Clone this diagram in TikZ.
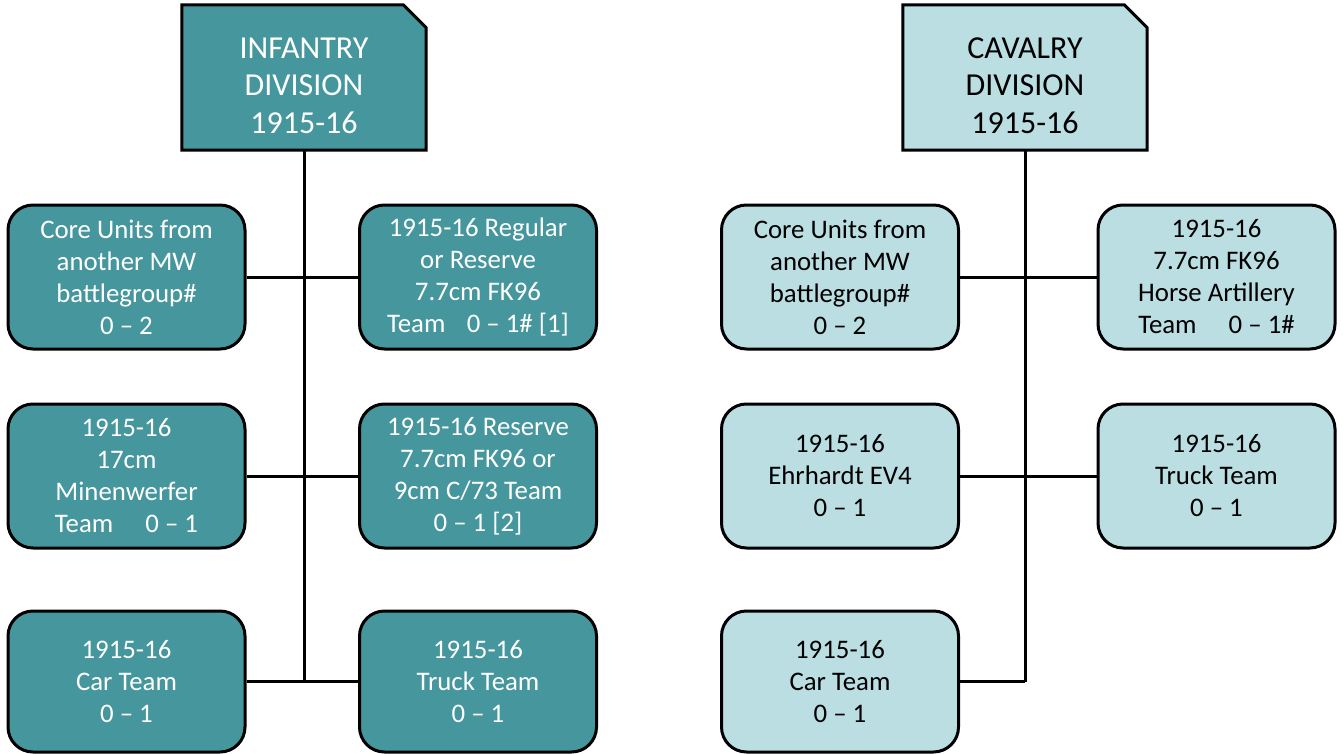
\documentclass[tikz,border=0pt]{standalone}
\usepackage{fontspec}
\setmainfont{Carlito}
\usetikzlibrary{calc}
\definecolor{infteal}{RGB}{70,150,158}
\definecolor{cavlight}{RGB}{186,222,226}
\newcommand{\titlestrut}{\rule{0pt}{37pt}}
\pgfdeclarelayer{bg}
\pgfsetlayers{bg,main}

\begin{document}
\begin{tikzpicture}[x=1pt, y=-1pt,
    divbox/.style={minimum width=244pt, minimum height=145pt,
        inner sep=0pt, align=center, font=\fontsize{32}{37.5}\selectfont},
    divedge/.style={draw, line width=3pt, line join=miter},
    unitbox/.style={draw, line width=3pt, rounded corners=25pt,
        minimum width=237pt, minimum height=144pt, inner sep=0pt,
        align=center, font=\fontsize{26.8}{32}\selectfont},
    link/.style={line width=3pt},
    inf/.style={fill=infteal, text=white},
    cav/.style={fill=cavlight, text=black}]
        \useasboundingbox (0,0) rectangle (1343,754);

        % Infantry division
        \node[divbox, text=white] (inftop) at (304,77.5) {\titlestrut INFANTRY\\DIVISION\\1915-16};
        \node[unitbox, inf] (infa) at (126.5,277) {Core Units from\\another MW\\battlegroup\#\\0 – 2};
        \node[unitbox, inf] (infb) at (478,277) {1915-16 Regular\\or Reserve\\7.7cm FK96\\Team\hspace{0.8em}0 – 1\# [1]};
        \node[unitbox, inf] (infc) at (126.5,476) {1915-16\\17cm\\Minenwerfer\\Team\hspace{1.2em}0 – 1};
        \node[unitbox, inf] (infd) at (478,476) {1915-16 Reserve\\7.7cm FK96 or\\9cm C/73 Team\\0 – 1 [2]};
        \node[unitbox, inf, minimum height=141pt] (infe) at (126.5,681.5) {1915-16\\Car Team\\0 – 1};
        \node[unitbox, inf, minimum height=141pt] (inff) at (478,681.5) {1915-16\\Truck Team\\0 – 1};

        % Cavalry division
        \node[divbox, text=black] (cavtop) at (1025,77.5) {\titlestrut CAVALRY\\DIVISION\\1915-16};
        \node[unitbox, cav] (cava) at (840,277) {Core Units from\\another MW\\battlegroup\#\\0 – 2};
        \node[unitbox, cav] (cavb) at (1216.5,277) {1915-16\\7.7cm FK96\\Horse Artillery\\Team\hspace{1.2em}0 – 1\#};
        \node[unitbox, cav] (cavc) at (840,476) {1915-16\\Ehrhardt EV4\\0 – 1};
        \node[unitbox, cav] (cavd) at (1216.5,476) {1915-16\\Truck Team\\0 – 1};
        \node[unitbox, cav, minimum height=141pt] (cave) at (840,681.5) {1915-16\\Car Team\\0 – 1};

        % Cut-corner boxes behind the titles
        \begin{pgfonlayer}{bg}
        \foreach \d/\c in {inftop/infteal, cavtop/cavlight}
            \path[divedge, fill=\c] (\d.south west) -- (\d.north west) -- ([xshift=-23pt]\d.north east)
                -- ([yshift=-23pt]\d.north east) -- (\d.south east) -- cycle;
        \end{pgfonlayer}

        % Infantry links
        \coordinate (infend) at (inftop.south |- infe.east);
        \draw[link] (inftop.south) -- (infend);
        \draw[link] (infa.east) -- (infb.west);
        \draw[link] (infc.east) -- (infd.west);
        \draw[link] (infe.east) -- (inff.west);

        % Cavalry links
        \coordinate (cavend) at (cavtop.south |- cave.east);
        \draw[link] (cavtop.south) -- (cavend);
        \draw[link] (cava.east) -- (cavb.west);
        \draw[link] (cavc.east) -- (cavd.west);
        \draw[link] (cave.east) -- (cavend);
\end{tikzpicture}
\end{document}
